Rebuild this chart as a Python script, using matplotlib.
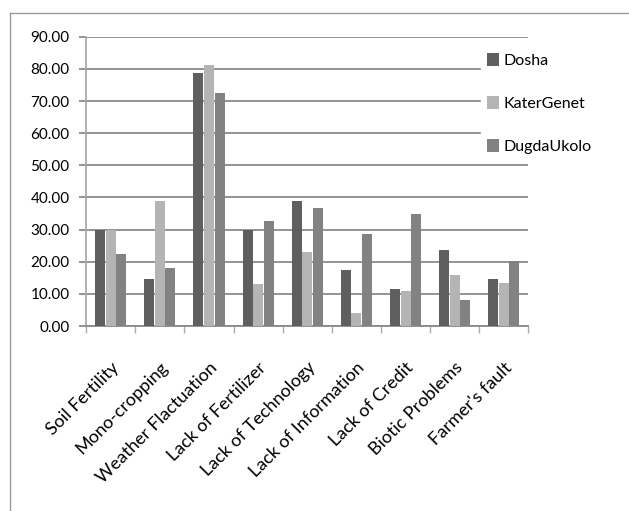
import matplotlib.pyplot as plt
import numpy as np
from matplotlib.lines import Line2D

categories = [
    "Soil Fertility", "Mono-cropping", "Weather Flactuation", "Lack of Fertilizer",
    "Lack of Technology", "Lack of Information", "Lack of Credit",
    "Biotic Problems", "Farmer's fault",
]
dosha = [30.0, 14.5, 78.6, 30.0, 39.0, 17.5, 11.6, 23.5, 14.5]
kater_genet = [30.0, 39.0, 81.3, 13.2, 23.0, 4.0, 11.0, 16.0, 13.3]
dugda_ukolo = [22.5, 18.2, 72.5, 32.8, 36.8, 28.7, 35.0, 8.0, 20.3]
series_names = ["Dosha", "KaterGenet", "DugdaUkolo"]
series_colors = ["#5f5f5f", "#b4b4b4", "#828282"]
y_ticks = np.arange(0, 100, 10)

plt.rcParams["font.family"] = ["Lato", "DejaVu Sans"]

fig = plt.figure(figsize=(6.29, 5.11), dpi=100)
ax = fig.add_axes([0.137, 0.362, 0.703, 0.566])

x = np.arange(len(categories))
w = 0.215
for i, (vals, name, col) in enumerate(zip([dosha, kater_genet, dugda_ukolo], series_names, series_colors)):
    ax.bar(x + (i - 1) * w, vals, width=w * 0.95, color=col, label=name, zorder=3)

ax.set_xlim(-0.5, len(categories) - 0.5)
ax.set_ylim(0, 90)
ax.set_yticks(y_ticks)
ax.set_yticklabels([f"{v:.2f}" for v in y_ticks], fontsize=11)
ax.yaxis.grid(True, color="#8a8a8a", linewidth=1.3, zorder=0)
ax.set_axisbelow(True)

ax.set_xticks(np.arange(len(categories) + 1) - 0.5, minor=True)
ax.set_xticks(x)
ax.set_xticklabels(categories, rotation=45, ha="right", rotation_mode="anchor", fontsize=13)
ax.tick_params(axis="x", which="major", length=0, pad=24)
ax.tick_params(axis="x", which="minor", length=5, color="#aaaaaa", width=1)
ax.tick_params(axis="y", length=5, color="#8a8a8a", width=1.3, pad=7)

for s in ["top", "right"]:
    ax.spines[s].set_visible(False)
ax.spines["left"].set_color("#aaaaaa")
ax.spines["left"].set_linewidth(1.3)
ax.spines["bottom"].set_color("#8a8a8a")
ax.spines["bottom"].set_linewidth(1.3)

leg = ax.legend(loc="upper left", bbox_to_anchor=(0.875, 0.995), frameon=True, fontsize=11.5,
                handlelength=0.7, handleheight=0.9, handletextpad=0.3, labelspacing=1.75,
                borderpad=0.4, fancybox=False)
leg.get_frame().set_edgecolor("white")
leg.get_frame().set_facecolor("white")
leg.get_frame().set_alpha(1)

# outer chart frame (only top and left edges visible in the crop)
fig.add_artist(Line2D([10 / 629, 1], [1 - 13 / 511, 1 - 13 / 511], color="#999999", linewidth=1))
fig.add_artist(Line2D([10 / 629, 10 / 629], [0, 1 - 13 / 511], color="#999999", linewidth=1))

fig.savefig("out.png", dpi=100)
